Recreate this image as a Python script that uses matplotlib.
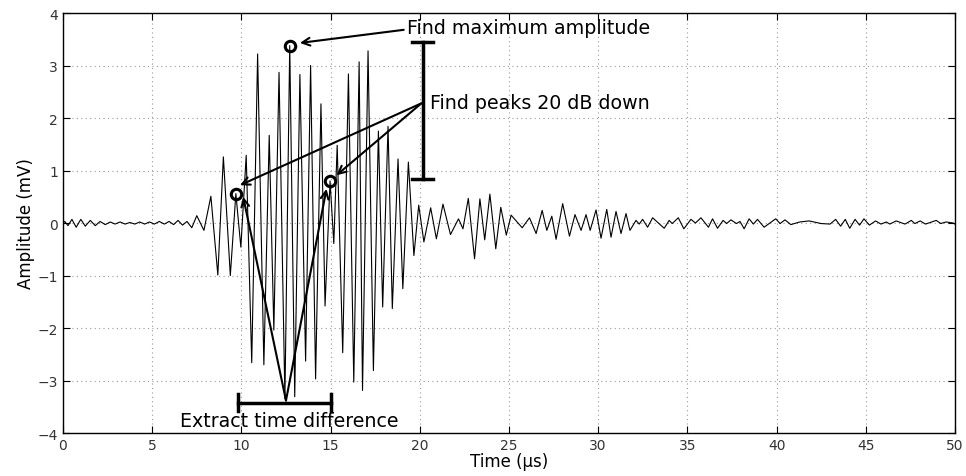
import numpy as np
import matplotlib
matplotlib.use("Agg")
import matplotlib.pyplot as plt

# waveform: turning points (time in us, amplitude in mV)
t_us = [
    0.0, 0.1, 0.28, 0.5, 0.74, 1.0, 1.25, 1.53, 1.81, 2.08, 2.37, 2.65, 2.92,
    3.2, 3.48, 3.75, 4.03, 4.3, 4.58, 4.85, 5.12, 5.4, 5.68, 5.95, 6.2, 6.45,
    6.7, 6.95, 7.22, 7.5, 7.9, 8.29, 8.68, 8.99, 9.38, 9.69, 9.97, 10.27,
    10.58, 10.91, 11.26, 11.56, 11.82, 12.11, 12.44, 12.71, 12.99, 13.28,
    13.6, 13.88, 14.16, 14.46, 14.69, 14.97, 15.18, 15.37, 15.68, 16.0, 16.3,
    16.6, 16.79, 17.1, 17.4, 17.68, 17.92, 18.22, 18.46, 18.78, 19.05, 19.36,
    19.67, 19.94, 20.23, 20.61, 20.93, 21.3, 21.72, 22.17, 22.42, 22.72,
    23.07, 23.37, 23.64, 23.93, 24.26, 24.54, 24.85, 25.12, 25.74, 26.15,
    26.52, 26.86, 27.12, 27.4, 27.64, 28.01, 28.39, 28.7, 29.04, 29.32, 29.55,
    29.88, 30.16, 30.48, 30.72, 31.0, 31.28, 31.56, 31.78, 32.12, 32.3, 32.49,
    32.77, 33.05, 33.7, 33.98, 34.15, 34.49, 34.8, 35.2, 35.45, 35.76, 36.18,
    36.41, 36.69, 37.0, 37.2, 37.44, 37.75, 37.95, 38.18, 38.46, 38.7, 38.93,
    39.3, 39.95, 40.2, 40.47, 40.8, 41.3, 41.82, 42.5, 43.0, 43.31, 43.59,
    43.85, 44.1, 44.4, 44.65, 44.9, 45.2, 45.55, 45.85, 46.15, 46.35, 46.7,
    47.2, 47.55, 47.75, 48.05, 48.35, 48.95, 49.2, 49.5, 49.9, 50.0,
]
amp_mv = [
    0.0, 0.03, -0.05, 0.07, -0.08, 0.07, -0.06, 0.05, -0.05, 0.03, -0.03,
    0.02, -0.02, 0.02, -0.02, 0.01, -0.02, 0.02, -0.02, 0.02, -0.02, 0.03,
    -0.02, 0.03, -0.03, 0.05, -0.04, 0.03, -0.09, 0.14, -0.14, 0.51, -0.99,
    1.26, -1.0, 0.56, -0.46, 1.29, -2.66, 3.22, -2.7, 1.67, -2.04, 2.87,
    -3.35, 3.38, -3.31, 2.83, -2.63, 3.0, -2.97, 2.27, -1.58, 0.8, -0.39,
    1.48, -2.47, 2.84, -3.03, 3.07, -3.19, 3.28, -2.81, 1.75, -1.6, 1.84,
    -1.63, 1.22, -1.25, 1.16, -0.62, 0.34, -0.36, 0.29, -0.3, 0.36, -0.22,
    0.08, -0.11, 0.47, -0.68, 0.46, -0.32, 0.55, -0.49, 0.3, -0.23, 0.15,
    -0.09, 0.1, -0.2, 0.24, -0.14, 0.13, -0.31, 0.37, -0.25, 0.16, -0.14,
    0.16, -0.14, 0.25, -0.29, 0.26, -0.27, 0.22, -0.2, 0.18, -0.14, 0.05,
    -0.02, 0.07, -0.08, 0.1, -0.1, 0.05, -0.01, 0.1, -0.11, 0.07, 0.0, 0.1,
    -0.08, 0.08, -0.1, 0.05, -0.01, 0.06, -0.01, 0.03, -0.11, 0.08, -0.02,
    0.07, -0.08, 0.08, -0.01, 0.06, -0.03, 0.02, 0.04, -0.01, -0.02, 0.07,
    -0.06, 0.07, -0.1, 0.07, -0.04, 0.08, -0.04, 0.04, -0.02, 0.02, -0.02,
    0.04, -0.02, 0.05, -0.01, 0.04, -0.02, 0.05, -0.01, 0.02, 0.0, -0.02,
]

# marked peaks: max amplitude and the two 20 dB-down points
peak_t = [9.69, 12.71, 14.97]
peak_v = [0.56, 3.38, 0.80]

fig = plt.figure(figsize=(9.66, 4.77), dpi=100)
ax = fig.add_axes([0.0652, 0.0901, 0.9234, 0.8805])

ax.plot(t_us, amp_mv, color="black", linewidth=0.8, zorder=3)
ax.plot(peak_t, peak_v, linestyle="none", marker="o", markersize=7.5,
        markerfacecolor="none", markeredgecolor="black", markeredgewidth=2.2,
        zorder=5)

ax.set_xlim(0, 50)
ax.set_ylim(-4, 4)
ax.set_xticks(np.arange(0, 51, 5))
ax.set_yticks(np.arange(-4, 5, 1))
ax.grid(True, color="#9a9a9a", linestyle=(0, (1, 3)), linewidth=0.8)
ax.tick_params(direction="in", top=True, right=True, length=5,
               labelsize=10, labelcolor="#333333")
for s in ax.spines.values():
    s.set_linewidth(1.0)
ax.set_xlabel("Time (µs)", fontsize=12, labelpad=0)
ax.set_ylabel("Amplitude (mV)", fontsize=12, labelpad=2)

arrow = dict(arrowstyle="->", color="black", lw=1.5, mutation_scale=14,
             shrinkA=0, shrinkB=0)
note_size = 13.7

# find maximum amplitude
ax.text(19.26, 3.72, "Find maximum amplitude", fontsize=note_size,
        va="center", ha="left")
ax.annotate("", xy=(13.28, 3.43), xytext=(19.1, 3.68), arrowprops=arrow)

# 20 dB bar and the two arrows to the side peaks
ax.plot([20.16, 20.16], [0.83, 3.45], color="black", lw=2.5, zorder=4)
ax.plot([19.55, 20.75], [3.45, 3.45], color="black", lw=2.5, zorder=4)
ax.plot([19.55, 20.75], [0.83, 0.83], color="black", lw=2.5, zorder=4)
ax.text(20.6, 2.29, "Find peaks 20 dB down", fontsize=note_size,
        va="center", ha="left")
ax.annotate("", xy=(9.92, 0.72), xytext=(20.09, 2.28), arrowprops=arrow)
ax.annotate("", xy=(15.33, 0.91), xytext=(20.09, 2.28), arrowprops=arrow)

# time difference bar
ax.plot([9.81, 15.01], [-3.42, -3.42], color="black", lw=2.5, zorder=4)
ax.plot([9.81, 9.81], [-3.59, -3.25], color="black", lw=2.5, zorder=4)
ax.plot([15.01, 15.01], [-3.59, -3.25], color="black", lw=2.5, zorder=4)
ax.annotate("", xy=(10.1, 0.5), xytext=(12.5, -3.38), arrowprops=arrow)
ax.annotate("", xy=(14.77, 0.65), xytext=(12.5, -3.38), arrowprops=arrow)
ax.text(12.7, -3.77, "Extract time difference", fontsize=note_size,
        va="center", ha="center")

fig.savefig("out.png", dpi=100)
